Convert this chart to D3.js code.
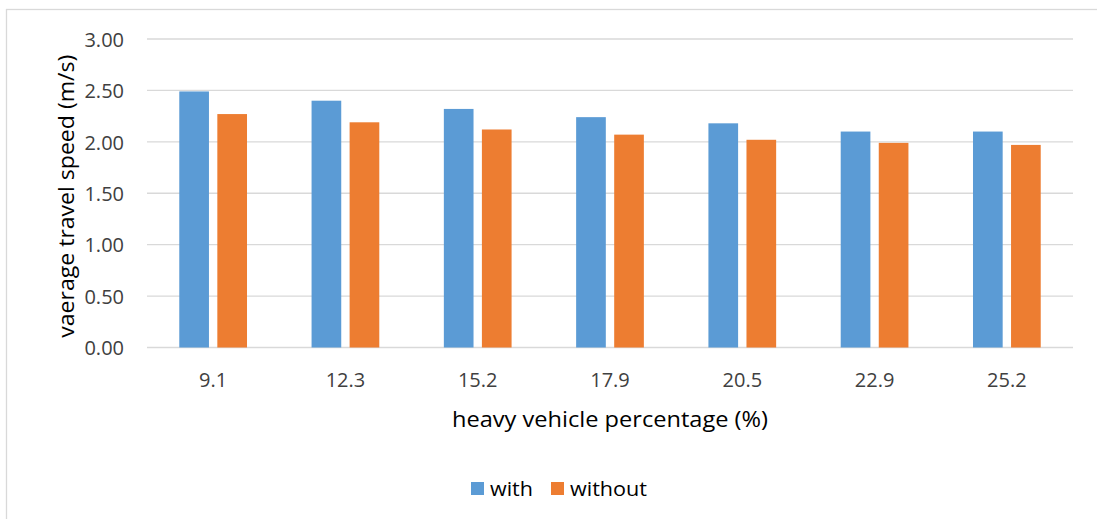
<!DOCTYPE html>
<html>
<head>
<meta charset="utf-8">
<script src="https://cdn.jsdelivr.net/npm/d3@7"></script>
<style>
  html, body { margin: 0; padding: 0; background: #fff; }
  svg { display: block; font-family: "Open Sans", sans-serif; }
</style>
</head>
<body>
<svg id="chart" width="1097" height="519"></svg>
<script>
// Heavy vehicle share (%) on the x axis
const categories = ["9.1", "12.3", "15.2", "17.9", "20.5", "22.9", "25.2"];
// Average travel speed (m/s)
const withValues = [2.49, 2.40, 2.32, 2.24, 2.18, 2.10, 2.10];
const withoutValues = [2.27, 2.19, 2.12, 2.07, 2.02, 1.99, 1.97];
const seriesNames = ["with", "without"];
const yTicks = [0, 0.5, 1.0, 1.5, 2.0, 2.5, 3.0];

const colors = { with: "#5B9BD5", without: "#ED7D31" };
const FONT = "'Open Sans', sans-serif";

const svg = d3.select("#chart");
const W = 1097, H = 519;
const plot = { left: 147, right: 1073, top: 39, bottom: 347.5 };

// outer chart frame
svg.append("rect")
  .attr("x", 6.5).attr("y", 9.5)
  .attr("width", W + 10).attr("height", H + 10)
  .attr("fill", "none").attr("stroke", "#d9d9d9").attr("stroke-width", 1.3);

const x = d3.scaleBand().domain(categories).range([plot.left, plot.right]).paddingInner(0).paddingOuter(0);
const y = d3.scaleLinear().domain([0, 3]).range([plot.bottom, plot.top]);

// gridlines
svg.append("g")
  .selectAll("line").data(yTicks).join("line")
  .attr("x1", plot.left).attr("x2", plot.right)
  .attr("y1", d => y(d)).attr("y2", d => y(d))
  .attr("stroke", "#d9d9d9").attr("stroke-width", 1.3);

// y axis labels
const yAxis = d3.axisLeft(y).tickValues(yTicks).tickFormat(d3.format(".2f")).tickSize(0).tickPadding(0);
const yg = svg.append("g").attr("transform", `translate(${plot.left - 23},0)`).call(yAxis);
yg.select(".domain").remove();
yg.selectAll("text").attr("font-size", 20).attr("fill", "#404040").attr("font-family", FONT).attr("dy", "0.36em");

// x axis labels
const xAxis = d3.axisBottom(x).tickSize(0).tickPadding(0);
const xg = svg.append("g").attr("transform", `translate(0,${plot.bottom + 32})`).call(xAxis);
xg.select(".domain").remove();
xg.selectAll("text").attr("font-size", 20).attr("fill", "#404040").attr("font-family", FONT).attr("dy", "0.36em");

// bars: each pair sits in the middle half of its category band
const bw = x.bandwidth();
const inner = d3.scaleBand().domain(seriesNames).range([bw * 0.244, bw * 0.756]).paddingInner(0.22);
const rows = categories.map((c, i) => ({ c, with: withValues[i], without: withoutValues[i] }));
const groups = svg.append("g").selectAll("g").data(rows).join("g")
  .attr("transform", d => `translate(${x(d.c)},0)`);
groups.selectAll("rect")
  .data(d => seriesNames.map(k => ({ k, v: d[k] })))
  .join("rect")
  .attr("x", d => inner(d.k))
  .attr("width", inner.bandwidth())
  .attr("y", d => y(d.v))
  .attr("height", d => y(0) - y(d.v))
  .attr("fill", d => colors[d.k]);

// axis titles
svg.append("text")
  .attr("transform", `translate(66,${(plot.top + plot.bottom) / 2 + 3}) rotate(-90)`)
  .attr("text-anchor", "middle").attr("dy", "0.36em")
  .attr("font-size", 21.5).attr("fill", "#000")
  .attr("textLength", 283).attr("lengthAdjust", "spacingAndGlyphs")
  .text("vaerage travel speed (m/s)");

svg.append("text")
  .attr("x", 610).attr("y", 419)
  .attr("text-anchor", "middle").attr("dy", "0.36em")
  .attr("font-size", 21.5).attr("fill", "#000")
  .attr("textLength", 316).attr("lengthAdjust", "spacingAndGlyphs")
  .text("heavy vehicle percentage (%)");

// legend
const legendItems = [
  { k: "with", x: 471, len: 43 },
  { k: "without", x: 551, len: 77 }
];
const lg = svg.append("g").selectAll("g").data(legendItems).join("g")
  .attr("transform", d => `translate(${d.x},489)`);
lg.append("rect").attr("x", 0).attr("y", -7).attr("width", 13).attr("height", 13)
  .attr("fill", d => colors[d.k]);
lg.append("text").attr("x", 19).attr("y", 0).attr("dy", "0.36em")
  .attr("font-size", 20).attr("fill", "#000")
  .attr("textLength", d => d.len).attr("lengthAdjust", "spacingAndGlyphs")
  .text(d => d.k);
</script>
</body>
</html>
